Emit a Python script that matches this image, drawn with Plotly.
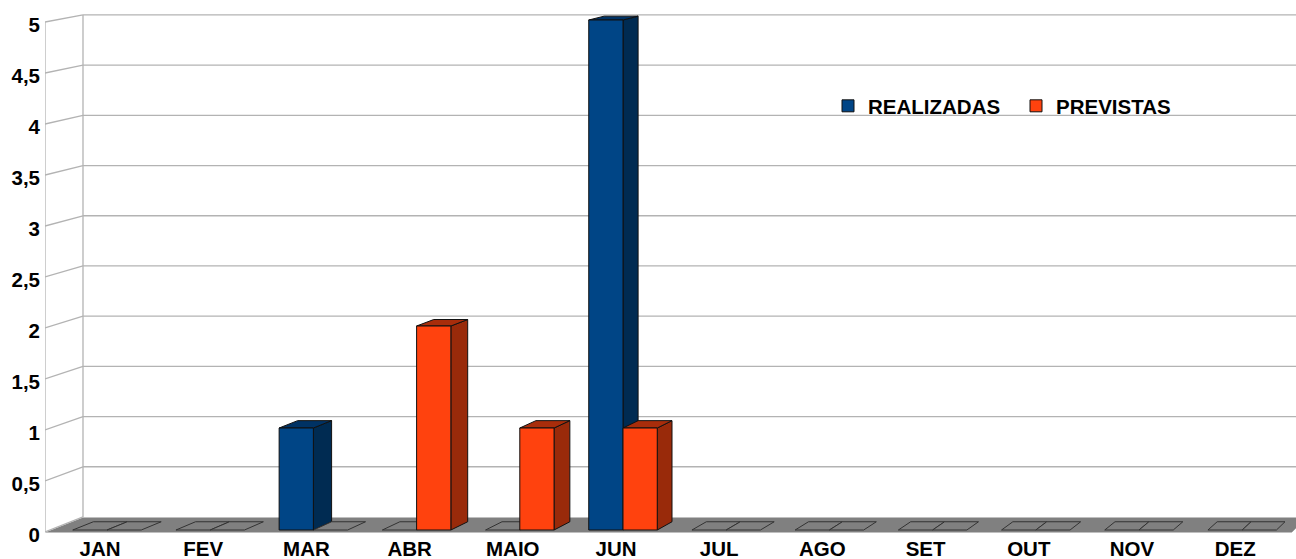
import plotly.graph_objects as go

# ---------------- data ----------------
months = ["JAN", "FEV", "MAR", "ABR", "MAIO", "JUN", "JUL", "AGO", "SET", "OUT", "NOV", "DEZ"]
realizadas = [0, 0, 1, 0, 0, 5, 0, 0, 0, 0, 0, 0]
previstas = [0, 0, 0, 2, 1, 1, 0, 0, 0, 0, 0, 0]
y_ticks = [0, 0.5, 1, 1.5, 2, 2.5, 3, 3.5, 4, 4.5, 5]
y_tick_labels = ["0", "0,5", "1", "1,5", "2", "2,5", "3", "3,5", "4", "4,5", "5"]
series_names = ["REALIZADAS", "PREVISTAS"]

# ---------------- styling / geometry ----------------
FRONT = ["#004586", "#ff420e"]
SIDE = ["#002b52", "#992a0a"]
TOP = ["#003264", "#a82d0b"]
FLOOR = "#808080"
GRID = "#b3b3b3"
FONT = dict(family="Liberation Sans, Arial, sans-serif", size=20.5, color="#000000", weight="bold")

W, H = 1296, 559
ML, MR, MT, MB = 45, 0, 1, 25
PW, PH = W - ML - MR, H - MT - MB
SX = 103.2          # px per category
SY = 102.0          # px per unit value
FIRST_PX = 107.0    # pixel centre of first category
ZERO_PX = 530.0     # pixel row of value 0 on the bar plane
XMIN = (ML - FIRST_PX) / SX
XMAX = XMIN + PW / SX
YMIN = -((H - MB) - ZERO_PX) / SY
YMAX = YMIN + PH / SY
BARW = 0.332
TB = 0.55           # bar depth as fraction of full floor depth


def px_of(x):
    return ML + (x - XMIN) * SX


def off(x, y, t):
    """oblique/perspective depth offset of point (x, y) by depth fraction t"""
    dxp = 38 - (px_of(x) - ML) * 0.01826
    dyp = 15 - (y * SY) * 8 / 510
    return x + t * dxp / SX, y + t * dyp / SY


def path(pts):
    return "M " + " L ".join(f"{a:.5f},{b:.5f}" for a, b in pts) + " Z"


shapes = []

# floor
yf = -2.5 / SY
xfr = len(months) - 0.52
fl = [(XMIN, yf), (xfr, yf), off(xfr, yf, 1), off(XMIN, yf, 1)]
shapes.append(dict(type="path", path=path(fl), xref="x", yref="y", fillcolor=FLOOR,
                   line=dict(width=0), layer="below"))

# walls: gridlines on the back wall and left wall
wall_shift = -2.0 / SY
for v in y_ticks:
    yfront = v + wall_shift
    bx, by = off(XMIN, yfront, 1)
    if v > 0:
        shapes.append(dict(type="line", xref="x", yref="y", x0=bx, y0=by, x1=XMAX + 1, y1=by,
                           line=dict(color=GRID, width=1.3), layer="below"))
    shapes.append(dict(type="line", xref="x", yref="y", x0=XMIN, y0=yfront, x1=bx, y1=by,
                       line=dict(color=GRID, width=1.3), layer="below"))
# vertical wall edges
b0 = off(XMIN, y_ticks[0] + wall_shift, 1)
b5 = off(XMIN, y_ticks[-1] + wall_shift, 1)
shapes.append(dict(type="line", xref="x", yref="y", x0=b0[0], y0=b0[1], x1=b5[0], y1=b5[1],
                   line=dict(color=GRID, width=1.3), layer="below"))
shapes.append(dict(type="line", xref="x", yref="y", x0=XMIN, y0=y_ticks[0] + wall_shift,
                   x1=XMIN, y1=y_ticks[-1] + wall_shift,
                   line=dict(color=GRID, width=1.3), layer="below"))

# bar 3D faces
for i in range(len(months)):
    for s, vals in enumerate([realizadas, previstas]):
        v = vals[i]
        x0 = i - BARW + s * BARW
        x1 = x0 + BARW
        if v == 0:
            pts = [(x0, 0), (x1, 0), off(x1, 0, TB), off(x0, 0, TB)]
            shapes.append(dict(type="path", path=path(pts), xref="x", yref="y",
                               fillcolor=FLOOR, line=dict(color="#333333", width=1),
                               layer="between"))
        else:
            side = [(x1, 0), (x1, v), off(x1, v, TB), off(x1, 0, TB)]
            top = [(x0, v), (x1, v), off(x1, v, TB), off(x0, v, TB)]
            shapes.append(dict(type="path", path=path(side), xref="x", yref="y",
                               fillcolor=SIDE[s], line=dict(color="#111111", width=1),
                               layer="between"))
            shapes.append(dict(type="path", path=path(top), xref="x", yref="y",
                               fillcolor=TOP[s], line=dict(color="#111111", width=1),
                               layer="between"))

fig = go.Figure()
xs = list(range(len(months)))
for s, vals in enumerate([realizadas, previstas]):
    fig.add_trace(go.Bar(
        x=xs, y=[v if v != 0 else None for v in vals], name=series_names[s],
        marker=dict(color=FRONT[s], line=dict(color="#111111", width=1)),
        hoverinfo="x+y",
    ))

fig.update_layout(
    width=W, height=H,
    margin=dict(l=ML, r=MR, t=MT, b=MB, pad=0, autoexpand=False),
    paper_bgcolor="white", plot_bgcolor="white",
    barmode="group", bargap=1 - 2 * BARW, bargroupgap=0,
    shapes=shapes,
    font=FONT,
    showlegend=True,
    legend=dict(orientation="h", x=(828 - ML) / PW, xanchor="left",
                y=(H - MB - 106) / PH, yanchor="middle",
                entrywidth=143, entrywidthmode="pixels",
                font=FONT, bgcolor="rgba(0,0,0,0)", itemclick=False),
    xaxis=dict(range=[XMIN, XMAX], tickvals=xs, ticktext=months, showgrid=False,
               zeroline=False, showline=False, ticks="", tickfont=FONT, automargin=False,
               ticklabelshift=-7, ticklabelstandoff=0, fixedrange=True),
    yaxis=dict(range=[YMIN, YMAX], tickvals=y_ticks, ticktext=y_tick_labels, showgrid=False,
               zeroline=False, showline=False, ticks="", tickfont=FONT, automargin=False,
               ticklabelshift=5, ticklabelstandoff=4, fixedrange=True),
)

fig.write_html(
    "out.html",
    config={"displayModeBar": False},
    post_script="document.body.style.margin='0';document.body.style.overflow='hidden';",
)
